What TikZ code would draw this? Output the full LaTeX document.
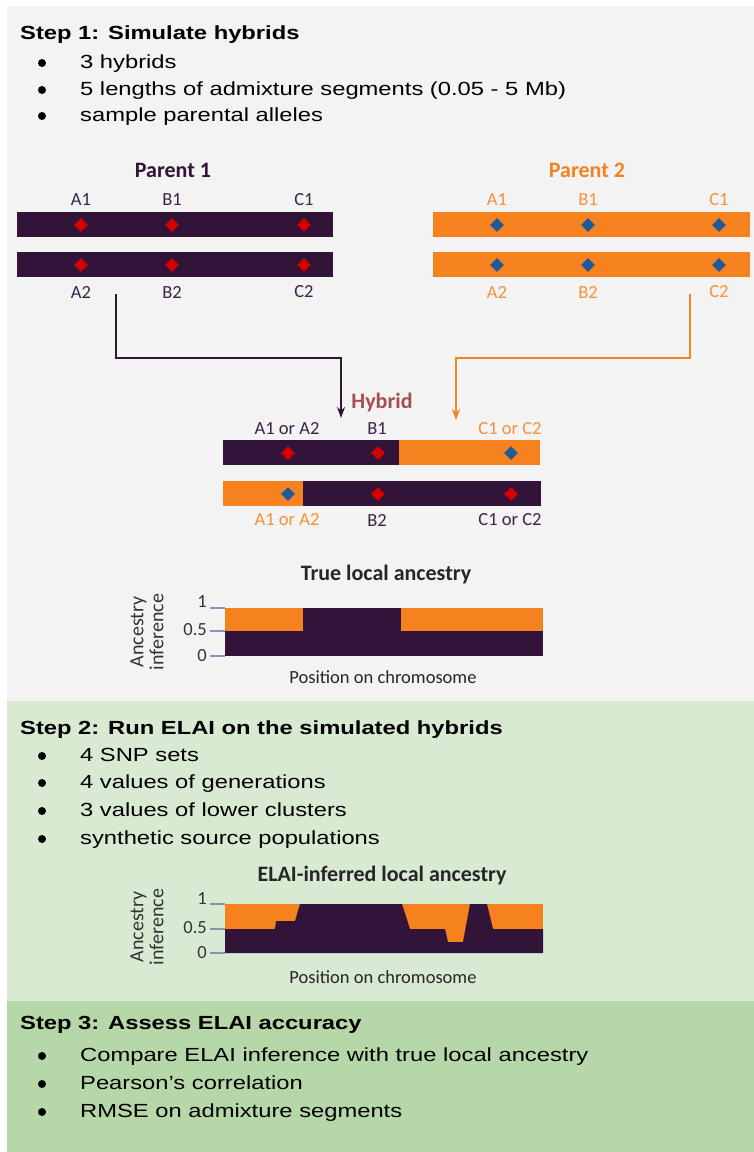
\documentclass[tikz,border=0pt]{standalone}
\usepackage{fontspec}
\setmainfont{Liberation Sans}
\newfontfamily\calib{Carlito}
\usetikzlibrary{shapes.geometric,arrows.meta}
\definecolor{purp}{HTML}{331439}
\definecolor{orng}{HTML}{F6821F}
\definecolor{lorng}{HTML}{F6923A}
\definecolor{dred}{HTML}{D40000}
\definecolor{dblue}{HTML}{1F5A99}
\definecolor{bggrey}{HTML}{F3F3F3}
\definecolor{gA}{HTML}{D9EAD3}
\definecolor{gB}{HTML}{B6D7A8}
\definecolor{hyb}{HTML}{A64D55}
\definecolor{tickc}{HTML}{8497B0}
\definecolor{lblp}{HTML}{3D2347}
\newcommand\stx[1]{\scalebox{1.25}[1]{#1}}
\begin{document}
\begin{tikzpicture}[x=1pt,y=-1pt,
 head/.style={anchor=base west, inner sep=0pt, font=\fontsize{19}{23}\selectfont\bfseries},
 item/.style={anchor=base west, inner sep=0pt, font=\fontsize{19}{23}\selectfont},
 dot/.style={circle, fill=black, inner sep=0pt, minimum size=8pt},
 bar/.style={rectangle, inner sep=0pt, minimum height=25pt, anchor=north west},
 rdia/.style={diamond, fill=dred, inner sep=0pt, minimum size=14pt},
 bdia/.style={diamond, fill=dblue, inner sep=0pt, minimum size=14pt},
 lbl/.style={inner sep=0pt, font=\calib\fontsize{18.5}{22}\selectfont},
 blbl/.style={inner sep=0pt, font=\calib\bfseries\fontsize{22}{26}\selectfont},
 tickl/.style={draw=tickc, line width=1.5pt},
 ticklab/.style={inner sep=0pt, anchor=east, font=\calib\fontsize{18.5}{22}\selectfont, text=black!80},
 ylab/.style={inner sep=0pt, rotate=90, align=center, font=\calib\fontsize{20}{20}\selectfont, text=black!80},
 conn/.style={line width=2pt, -{Stealth[length=11pt,width=8pt]}},
]
\useasboundingbox (0,0) rectangle (754,1152);
% panels
\fill[white] (0,0) rectangle (754,1152);
\fill[bggrey] (7,6) rectangle (754,701);
\fill[gA] (7,701) rectangle (754,1001);
\fill[gB] (7,1001) rectangle (754,1152);

% Step 1 text
\node[head] (s1) at (20,39) {\stx{Step 1: Simulate hybrids}};
\node[dot] (d11) at (42,63) {};
\node[item] (b11) at (80,68) {\stx{3 hybrids}};
\node[dot] (d12) at (42,90) {};
\node[item] (b12) at (80,95) {\stx{5 lengths of admixture segments (0.05 - 5 Mb)}};
\node[dot] (d13) at (42,116) {};
\node[item] (b13) at (80,121) {\stx{sample parental alleles}};

% Parent 1
\node[blbl, text=purp] (par1) at (173,170) {Parent 1};
\node[bar, fill=purp, minimum width=316pt] (p1a) at (17,212) {};
\node[bar, fill=purp, minimum width=316pt] (p1b) at (17,252) {};
\foreach \x/\n [count=\i] in {81/A,172/B,304/C}{
  \node[lbl, text=lblp] (p1t\i) at (\x,200) {\n1};
  \node[rdia] (p1ad\i) at (\x,225) {};
  \node[rdia] (p1bd\i) at (\x,265) {};
  \node[lbl, text=lblp] (p1u\i) at (\x,292) {\n2};
}
% Parent 2
\node[blbl, text=orng] (par2) at (587,170) {Parent 2};
\node[bar, fill=orng, minimum width=317pt] (p2a) at (433,212) {};
\node[bar, fill=orng, minimum width=317pt] (p2b) at (433,252) {};
\foreach \x/\n [count=\i] in {497/A,588/B,719/C}{
  \node[lbl, text=lorng] (p2t\i) at (\x,200) {\n1};
  \node[bdia] (p2ad\i) at (\x,225) {};
  \node[bdia] (p2bd\i) at (\x,265) {};
  \node[lbl, text=lorng] (p2u\i) at (\x,292) {\n2};
}

% connectors
\coordinate (mid) at (0,358);
\coordinate (p1s) at (116,294);
\coordinate (p1e) at (341,418);
\coordinate (p2s) at (690,294);
\coordinate (p2e) at (456,420);
\draw[conn, draw=purp] (p1s) -- (p1s |- mid) -- (p1e |- mid) -- (p1e);
\draw[conn, draw=orng] (p2s) -- (p2s |- mid) -- (p2e |- mid) -- (p2e);

% Hybrid
\node[blbl, text=hyb] (hyb) at (382,403) {Hybrid};
\node[lbl, text=lblp] (ht1) at (287,429) {A1 or A2};
\node[lbl, text=lblp] (ht2) at (377,429) {B1};
\node[lbl, text=lorng] (ht3) at (510,429) {C1 or C2};
\node[bar, fill=purp, minimum width=176pt] (h1p) at (223,440) {};
\node[bar, fill=orng, minimum width=141pt] (h1o) at (399,440) {};
\node[bar, fill=orng, minimum width=80pt] (h2o) at (223,481) {};
\node[bar, fill=purp, minimum width=238pt] (h2p) at (303,481) {};
\node[rdia] (hd1) at (288,453) {};
\node[rdia] (hd2) at (378,453) {};
\node[bdia] (hd3) at (511,453) {};
\node[bdia] (hd4) at (288,494) {};
\node[rdia] (hd5) at (378,494) {};
\node[rdia] (hd6) at (511,494) {};
\node[lbl, text=lorng] (hu1) at (287,520) {A1 or A2};
\node[lbl, text=lblp] (hu2) at (377,520) {B2};
\node[lbl, text=lblp] (hu3) at (510,520) {C1 or C2};

% True local ancestry chart
\node[blbl, text=black!85] (tla) at (386,575) {True local ancestry};
\fill[orng] (225,608) rectangle (543,631);
\fill[purp] (225,631) rectangle (543,656);
\fill[purp] (303,608) rectangle (401,631);
\draw[tickl] (210,608) -- (225,608);
\draw[tickl] (210,631) -- (225,631);
\draw[tickl] (210,656) -- (225,656);
\node[ticklab] (tl1) at (207,602) {1};
\node[ticklab] (tl2) at (207,630) {0.5};
\node[ticklab] (tl3) at (207,656) {0};
\node[ylab] (tya) at (147,632) {Ancestry\\inference};
\node[lbl, text=black!85] (tpx) at (383,677) {Position on chromosome};

% Step 2 text
\node[head] (s2) at (20,734) {\stx{Step 2: Run ELAI on the simulated hybrids}};
\node[dot] (d21) at (42,756) {};
\node[item] (b21) at (80,761) {\stx{4 SNP sets}};
\node[dot] (d22) at (42,783) {};
\node[item] (b22) at (80,788) {\stx{4 values of generations}};
\node[dot] (d23) at (42,811) {};
\node[item] (b23) at (80,816) {\stx{3 values of lower clusters}};
\node[dot] (d24) at (42,839) {};
\node[item] (b24) at (80,844) {\stx{synthetic source populations}};

% ELAI chart
\node[blbl, text=black!85] (ela) at (382,875) {ELAI-inferred local ancestry};
\fill[orng] (225,904) rectangle (543,953);
\fill[purp] (225,953) -- (225,929) -- (275,929) -- (276,921) -- (295,921) -- (300,904)
  -- (402,904) -- (410,929) -- (445,929) -- (448,942) -- (463,942) -- (470,904)
  -- (487,904) -- (493,929) -- (543,929) -- (543,953) -- cycle;
\draw[tickl] (210,904) -- (225,904);
\draw[tickl] (210,929) -- (225,929);
\draw[tickl] (210,953) -- (225,953);
\node[ticklab] (el1) at (207,899) {1};
\node[ticklab] (el2) at (207,928) {0.5};
\node[ticklab] (el3) at (207,953) {0};
\node[ylab] (eya) at (147,927) {Ancestry\\inference};
\node[lbl, text=black!85] (epx) at (383,977) {Position on chromosome};

% Step 3 text
\node[head] (s3) at (20,1029) {\stx{Step 3: Assess ELAI accuracy}};
\node[dot] (d31) at (42,1056) {};
\node[item] (b31) at (80,1061) {\stx{Compare ELAI inference with true local ancestry}};
\node[dot] (d32) at (42,1084) {};
\node[item] (b32) at (80,1089) {\stx{Pearson’s correlation}};
\node[dot] (d33) at (42,1112) {};
\node[item] (b33) at (80,1117) {\stx{RMSE on admixture segments}};
\end{tikzpicture}
\end{document}
